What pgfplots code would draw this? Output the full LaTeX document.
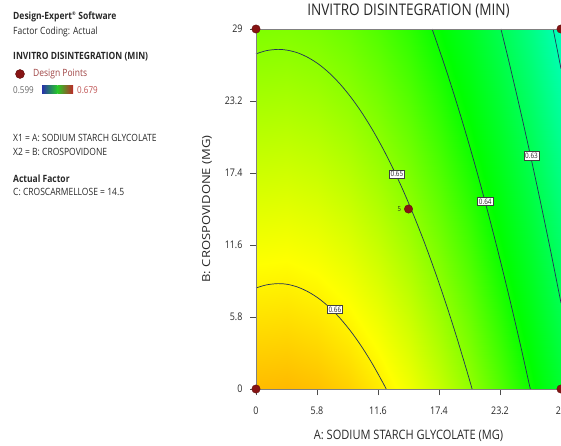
\documentclass[border=0pt]{standalone}
\usepackage{pgfplots}
\pgfplotsset{compat=1.18}
\usepackage{fontspec}
\setmainfont{Open Sans}[FakeStretch=0.85]
\newfontfamily\widefont{Open Sans}
\definecolor{dpred}{RGB}{135,20,20}
\definecolor{cline}{RGB}{35,50,90}
\definecolor{txt}{RGB}{40,40,40}
\pgfplotsset{colormap={de}{rgb255(0cm)=(0,0,255) rgb255(1.5cm)=(0,255,255) rgb255(5cm)=(0,255,0) rgb255(7.5cm)=(255,255,0) rgb255(10cm)=(255,0,0)}}
\begin{document}
\begin{tikzpicture}[x=1pt,y=1pt]
\useasboundingbox (0,0) rectangle (561,445);
% ---- left info panel ----
\node[anchor=west, inner sep=0pt, text=txt, font=\bfseries\fontsize{10}{12}\selectfont] at (13,428) {Design-Expert\textsuperscript{\tiny ®} Software};
\node[anchor=west, inner sep=0pt, text=txt, font=\fontsize{10}{12}\selectfont] at (13,413.5) {Factor Coding: Actual};
\node[anchor=west, inner sep=0pt, text=txt, font=\bfseries\fontsize{10}{12}\selectfont] at (13,388) {INVITRO DISINTEGRATION (MIN)};
\fill[dpred, draw=dpred!70!black] (20,371) circle (4.5);
\node[anchor=west, inner sep=0pt, text=dpred!80!white, font=\fontsize{10}{12}\selectfont] at (33,371) {Design Points};
\node[anchor=west, inner sep=0pt, text=black!60, font=\fontsize{9.5}{11}\selectfont] at (13,355) {0.599};
\shade[left color={rgb,255:red,40;green,50;blue,170}, right color={rgb,255:red,40;green,200;blue,40}] (42,351) rectangle (57.5,359);
\shade[left color={rgb,255:red,40;green,200;blue,40}, right color={rgb,255:red,190;green,40;blue,40}] (57.5,351) rectangle (73,359);
\node[anchor=west, inner sep=0pt, text={rgb,255:red,190;green,80;blue,80}, font=\fontsize{9.5}{11}\selectfont] at (77,355) {0.679};
\node[anchor=west, inner sep=0pt, text=txt, font=\fontsize{10}{12}\selectfont] at (13,307) {X1 = A: SODIUM STARCH GLYCOLATE};
\node[anchor=west, inner sep=0pt, text=txt, font=\fontsize{10}{12}\selectfont] at (13,293) {X2 = B: CROSPOVIDONE};
\node[anchor=west, inner sep=0pt, text=txt, font=\bfseries\fontsize{10}{12}\selectfont] at (13,266) {Actual Factor};
\node[anchor=west, inner sep=0pt, text=txt, font=\fontsize{10}{12}\selectfont] at (13,253) {C: CROSCARMELLOSE = 14.5};
% ---- contour plot ----
\begin{axis}[
  at={(256pt,56pt)}, anchor=south west,
  scale only axis, width=305pt, height=360pt,
  view={0}{90},
  xmin=0, xmax=29, ymin=0, ymax=29,
  xtick={0,5.8,11.6,17.4,23.2,29}, xticklabels={0,5.8,11.6,17.4,23.2,29},
  ytick={0,5.8,11.6,17.4,23.2,29}, yticklabels={0,5.8,11.6,17.4,23.2,29},
  ztick=\empty,
  tick pos=left,
  tick align=outside, major tick length=6pt,
  tick style={black!70, line width=0.6pt},
  ticklabel style={font=\fontsize{10.5}{12}\selectfont, text=txt},
  xticklabel style={yshift=-8pt},
  yticklabel style={xshift=-4pt},
  axis line style={black!50, line width=0.6pt},
  axis on top,
  clip=false,
  colormap name=de, point meta min=0.599, point meta max=0.679,
  title={INVITRO DISINTEGRATION (MIN)},
  title style={font=\fontsize{16}{18}\selectfont, text=txt, at={(axis description cs:0.5,1.0333)}, anchor=center},
  xlabel={A: SODIUM STARCH GLYCOLATE (MG)},
  xlabel style={font=\fontsize{13}{15}\selectfont, text=txt, at={(axis description cs:0.5,-0.1306)}, anchor=center},
  ylabel={\scalebox{1}[0.85]{\widefont\fontsize{13}{15}\selectfont B: CROSPOVIDONE (MG)}},
  ylabel style={text=txt, at={(axis description cs:-0.161,0.5)}, anchor=center},
]
\addplot3[surf, shader=interp] table {
x y z
0 0 0.66431
2.9 0 0.66447
5.8 0 0.66392
8.7 0 0.66264
11.6 0 0.66066
14.5 0 0.65795
17.4 0 0.65453
20.3 0 0.65039
23.2 0 0.64553
26.1 0 0.63996
29 0 0.63367

0 5.8 0.66124
2.9 5.8 0.66140
5.8 5.8 0.66085
8.7 5.8 0.65957
11.6 5.8 0.65759
14.5 5.8 0.65488
17.4 5.8 0.65146
20.3 5.8 0.64732
23.2 5.8 0.64246
26.1 5.8 0.63689
29 5.8 0.63060

0 11.6 0.65816
2.9 11.6 0.65832
5.8 11.6 0.65777
8.7 11.6 0.65649
11.6 11.6 0.65451
14.5 11.6 0.65180
17.4 11.6 0.64838
20.3 11.6 0.64424
23.2 11.6 0.63938
26.1 11.6 0.63381
29 11.6 0.62752

0 17.4 0.65509
2.9 17.4 0.65525
5.8 17.4 0.65470
8.7 17.4 0.65342
11.6 17.4 0.65144
14.5 17.4 0.64873
17.4 17.4 0.64531
20.3 17.4 0.64117
23.2 17.4 0.63631
26.1 17.4 0.63074
29 17.4 0.62445

0 23.2 0.65201
2.9 23.2 0.65217
5.8 23.2 0.65162
8.7 23.2 0.65034
11.6 23.2 0.64836
14.5 23.2 0.64565
17.4 23.2 0.64223
20.3 23.2 0.63809
23.2 23.2 0.63323
26.1 23.2 0.62766
29 23.2 0.62137

0 29 0.64894
2.9 29 0.64910
5.8 29 0.64855
8.7 29 0.64727
11.6 29 0.64529
14.5 29 0.64258
17.4 29 0.63916
20.3 29 0.63502
23.2 29 0.63016
26.1 29 0.62459
29 29 0.61830
};
% contour 0.66
\addplot3[cline, line width=0.7pt, mark=none, smooth] coordinates {
(0,8.14,0.66) (1,8.39,0.66) (2.1,8.49,0.66) (3,8.43,0.66) (4,8.20,0.66) (5,7.81,0.66) (6,7.27,0.66) (7,6.56,0.66) (8,5.69,0.66) (9,4.66,0.66) (10,3.47,0.66) (11,2.12,0.66) (12,0.61,0.66) (12.38,0,0.66)};
% contour 0.65
\addplot3[cline, line width=0.7pt, mark=none, smooth] coordinates {
(0,27.0,0.65) (1,27.26,0.65) (2.1,27.36,0.65) (3,27.29,0.65) (4,27.07,0.65) (5,26.68,0.65) (6,26.14,0.65) (7,25.43,0.65) (8,24.56,0.65) (9,23.53,0.65) (10,22.34,0.65) (11,20.99,0.65) (12,19.48,0.65) (13,17.81,0.65) (14,15.98,0.65) (15,13.98,0.65) (16,11.83,0.65) (17,9.51,0.65) (18,7.04,0.65) (19,4.40,0.65) (20,1.60,0.65) (20.55,0,0.65)};
% contour 0.64
\addplot3[cline, line width=0.7pt, mark=none, smooth] coordinates {
(16.74,29,0.64) (17,28.38,0.64) (18,25.91,0.64) (19,23.27,0.64) (20,20.47,0.64) (21,17.52,0.64) (22,14.40,0.64) (23,11.12,0.64) (24,7.68,0.64) (25,4.08,0.64) (26,0.31,0.64) (26.08,0,0.64)};
% contour 0.63
\addplot3[cline, line width=0.7pt, mark=none, smooth] coordinates {
(23.29,29,0.63) (24,26.55,0.63) (25,22.94,0.63) (26,19.18,0.63) (27,15.26,0.63) (28,11.18,0.63) (29,6.93,0.63)};
% contour 0.62
\addplot3[cline, line width=0.7pt, mark=none, smooth] coordinates {
(28.25,29,0.62) (28.6,27.52,0.62) (29,25.8,0.62)};
% design points
\addplot3[only marks, mark=*, mark size=4.2pt, mark options={fill=dpred, draw=dpred!70!black, line width=0.4pt}] coordinates {
(0,0,0.66) (29,0,0.66) (0,29,0.66) (29,29,0.66) (14.5,14.5,0.66)};
\node[font=\fontsize{7}{8}\selectfont, text=txt, anchor=east] at (axis cs:14.5,14.5,0.66) [xshift=-4pt] {5};
% contour labels
\tikzset{clab/.style={draw=black!75, fill=white, line width=0.4pt, inner sep=1.3pt, font=\fontsize{7.5}{8}\selectfont, text=txt}}
\node[clab] at (axis cs:7.5,6.4,0.66) {0.66};
\node[clab] at (axis cs:13.4,17.3,0.65) {0.65};
\node[clab] at (axis cs:21.8,15.1,0.64) {0.64};
\node[clab] at (axis cs:26.2,18.8,0.63) {0.63};
\end{axis}
\end{tikzpicture}
\end{document}
